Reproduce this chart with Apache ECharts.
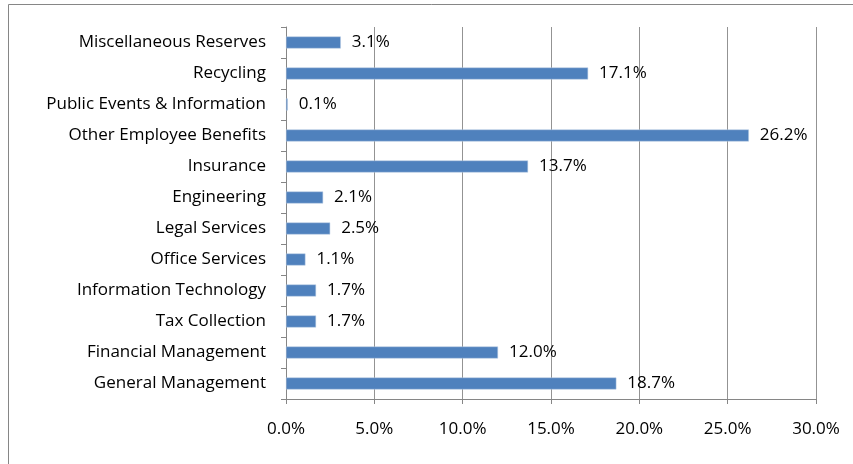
<!DOCTYPE html>
<html>
<head>
<meta charset="utf-8">
<script src="https://cdn.jsdelivr.net/npm/echarts@6/dist/echarts.min.js"></script>
<style>
  html, body { margin: 0; padding: 0; background: #fff; }
  #chart { width: 853px; height: 464px; }
</style>
</head>
<body>
<div id="chart"></div>
<script>
// bottom to top, as ECharts draws category axes on y
const categories = [
  'General Management', 'Financial Management', 'Tax Collection',
  'Information Technology', 'Office Services', 'Legal Services',
  'Engineering', 'Insurance', 'Other Employee Benefits',
  'Public Events & Information', 'Recycling', 'Miscellaneous Reserves'
];
const shares = [18.7, 12.0, 1.7, 1.7, 1.1, 2.5, 2.1, 13.7, 26.2, 0.1, 17.1, 3.1];
const xTicks = { min: 0, max: 30, step: 5 };

const font = 'Open Sans, Liberation Sans, sans-serif';

const chart = echarts.init(document.getElementById('chart'));
chart.setOption({
  animation: false,
  graphic: [{
    type: 'rect',
    shape: { x: 8.5, y: 4.5, width: 900, height: 500 },
    style: { fill: 'none', stroke: '#868686', lineWidth: 1 },
    silent: true
  }],
  grid: { left: 286, right: 37, top: 27, bottom: 65 },
  xAxis: {
    type: 'value',
    min: xTicks.min,
    max: xTicks.max,
    interval: xTicks.step,
    axisLine: { show: true, lineStyle: { color: '#868686' } },
    axisTick: { show: true, length: 5, lineStyle: { color: '#868686' } },
    splitLine: { show: true, lineStyle: { color: '#939393', width: 1 } },
    axisLabel: {
      color: '#000', fontFamily: font, fontSize: 17, margin: 22,
      formatter: v => v.toFixed(1) + '%'
    }
  },
  yAxis: {
    type: 'category',
    data: categories,
    axisLine: { show: true, lineStyle: { color: '#868686' } },
    axisTick: { show: true, length: 5, lineStyle: { color: '#868686' } },
    axisLabel: { color: '#000', fontFamily: font, fontSize: 17, margin: 20 }
  },
  series: [{
    type: 'bar',
    data: shares,
    barWidth: 12,
    itemStyle: { color: '#4f81bd', borderColor: '#b9cde5', borderWidth: 0.5 },
    label: {
      show: true, position: 'right', distance: 11,
      color: '#000', fontFamily: font, fontSize: 17,
      formatter: p => p.value.toFixed(1) + '%'
    }
  }]
});
</script>
</body>
</html>
